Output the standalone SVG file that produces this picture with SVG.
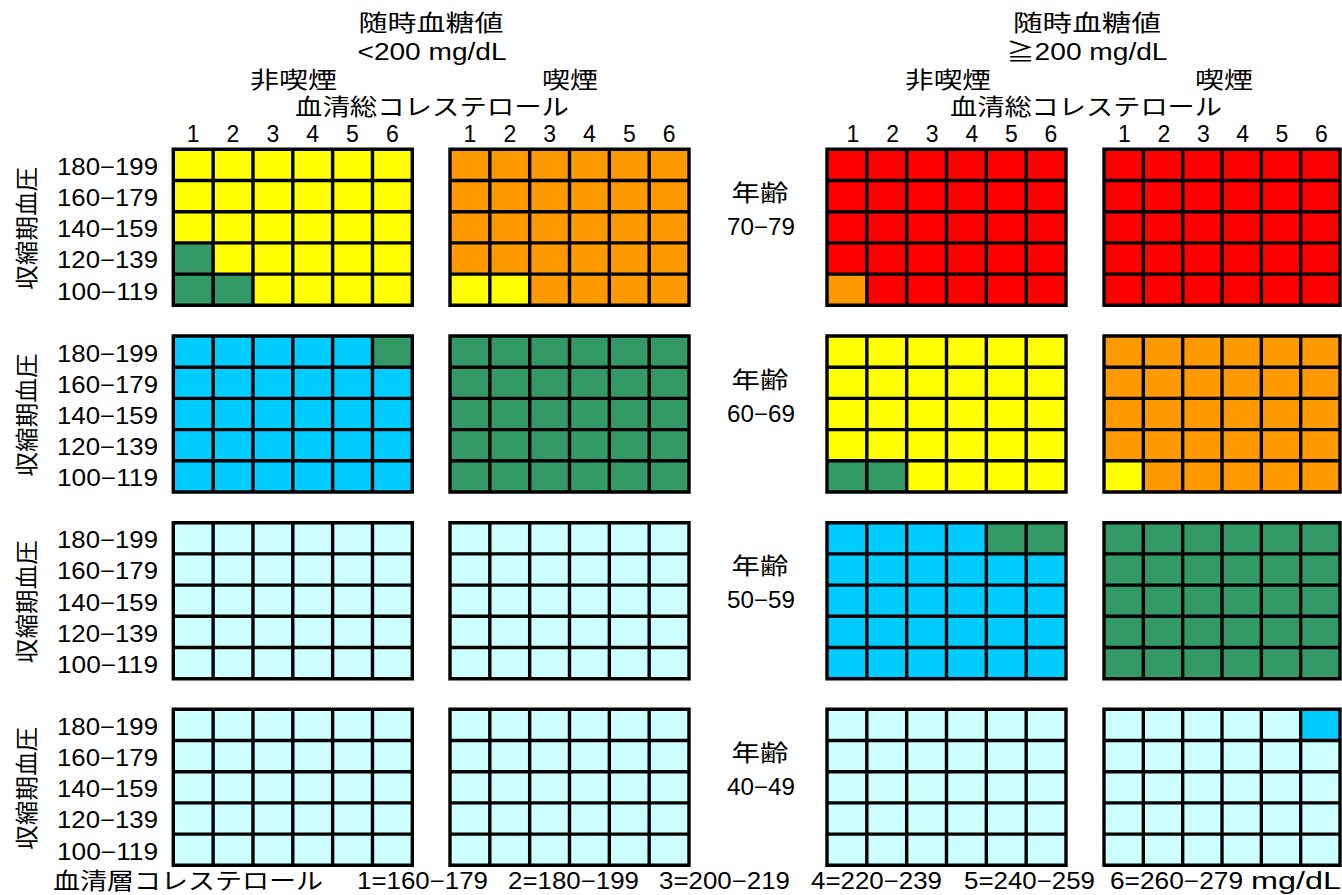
<svg xmlns="http://www.w3.org/2000/svg" xmlns:xlink="http://www.w3.org/1999/xlink" width="1342" height="895" viewBox="0 0 1342 895">
<style>
text{font-family:"Liberation Sans","Noto Sans CJK JP",sans-serif;fill:#000;font-size:23px}
.m{text-anchor:middle}
.grid{fill:none;stroke:#000;stroke-width:3.4}
.Y{fill:#FFFF00}.O{fill:#FF9900}.R{fill:#FF0000}.G{fill:#339966}.B{fill:#00CCFF}.C{fill:#CCFFFF}
</style>
<defs>
<path id="grid" class="grid" d="M0,0H239V156H0Z M39.83,0V156 M79.67,0V156 M119.5,0V156 M159.33,0V156 M199.17,0V156 M0,31.2H239 M0,62.4H239 M0,93.6H239 M0,124.8H239"/>
<g id="rowlab">
<text x="57" y="25.5" textLength="101" lengthAdjust="spacingAndGlyphs">180−199</text>
<text x="57" y="56.7" textLength="101" lengthAdjust="spacingAndGlyphs">160−179</text>
<text x="57" y="87.9" textLength="101" lengthAdjust="spacingAndGlyphs">140−159</text>
<text x="57" y="119.1" textLength="101" lengthAdjust="spacingAndGlyphs">120−139</text>
<text x="57" y="150.3" textLength="101" lengthAdjust="spacingAndGlyphs">100−119</text>
<text class="m" x="0" y="0" font-size="25" textLength="123" lengthAdjust="spacingAndGlyphs" transform="translate(35,79) rotate(-90)">収縮期血圧</text>
</g>
</defs>

<g id="headers">
<text class="m" x="431" y="31" font-size="24" textLength="145" lengthAdjust="spacingAndGlyphs">随時血糖値</text>
<text class="m" x="432" y="60" textLength="149" lengthAdjust="spacingAndGlyphs">&lt;200 mg/dL</text>
<text class="m" x="293.5" y="88" font-size="24" textLength="87" lengthAdjust="spacingAndGlyphs">非喫煙</text>
<text class="m" x="570" y="88" font-size="24" textLength="56" lengthAdjust="spacingAndGlyphs">喫煙</text>
<text class="m" x="432" y="115" font-size="24" textLength="274" lengthAdjust="spacingAndGlyphs">血清総コレステロール</text>
<text class="m" x="1087" y="31" font-size="24" textLength="148" lengthAdjust="spacingAndGlyphs">随時血糖値</text>
<text class="m" x="1087" y="60" textLength="161" lengthAdjust="spacingAndGlyphs">≧200 mg/dL</text>
<text class="m" x="948" y="88" font-size="24" textLength="86" lengthAdjust="spacingAndGlyphs">非喫煙</text>
<text class="m" x="1224" y="88" font-size="24" textLength="58" lengthAdjust="spacingAndGlyphs">喫煙</text>
<text class="m" x="1086" y="115" font-size="24" textLength="272" lengthAdjust="spacingAndGlyphs">血清総コレステロール</text>
<g id="colnums">
<text class="m" x="193.2" y="142">1</text><text class="m" x="233" y="142">2</text><text class="m" x="272.9" y="142">3</text><text class="m" x="312.7" y="142">4</text><text class="m" x="352.5" y="142">5</text><text class="m" x="392.4" y="142">6</text>
<text class="m" x="469.9" y="142">1</text><text class="m" x="509.8" y="142">2</text><text class="m" x="549.6" y="142">3</text><text class="m" x="589.4" y="142">4</text><text class="m" x="629.3" y="142">5</text><text class="m" x="669.1" y="142">6</text>
<text class="m" x="853" y="142">1</text><text class="m" x="892.6" y="142">2</text><text class="m" x="932.2" y="142">3</text><text class="m" x="971.8" y="142">4</text><text class="m" x="1011.4" y="142">5</text><text class="m" x="1051" y="142">6</text>
<text class="m" x="1124.5" y="142">1</text><text class="m" x="1164" y="142">2</text><text class="m" x="1203.3" y="142">3</text><text class="m" x="1242.6" y="142">4</text><text class="m" x="1282" y="142">5</text><text class="m" x="1321.5" y="142">6</text>
</g>
</g>

<g id="axis-labels">
<use xlink:href="#rowlab" href="#rowlab" transform="translate(0,149.3)"/>
<use xlink:href="#rowlab" href="#rowlab" transform="translate(0,336)"/>
<use xlink:href="#rowlab" href="#rowlab" transform="translate(0,522.7)"/>
<use xlink:href="#rowlab" href="#rowlab" transform="translate(0,709.3)"/>
</g>

<g id="age-labels">
<text class="m" x="760" y="201" font-size="24" textLength="57" lengthAdjust="spacingAndGlyphs">年齢</text>
<text class="m" x="761" y="235" textLength="68" lengthAdjust="spacingAndGlyphs">70−79</text>
<text class="m" x="760" y="387.7" font-size="24" textLength="57" lengthAdjust="spacingAndGlyphs">年齢</text>
<text class="m" x="761" y="421.7" textLength="68" lengthAdjust="spacingAndGlyphs">60−69</text>
<text class="m" x="760" y="574.4" font-size="24" textLength="57" lengthAdjust="spacingAndGlyphs">年齢</text>
<text class="m" x="761" y="608.4" textLength="68" lengthAdjust="spacingAndGlyphs">50−59</text>
<text class="m" x="760" y="761" font-size="24" textLength="57" lengthAdjust="spacingAndGlyphs">年齢</text>
<text class="m" x="761" y="795" textLength="68" lengthAdjust="spacingAndGlyphs">40−49</text>
</g>

<!-- Age 70-79 -->
<g id="b70-ns-lo" transform="translate(173.3,149.3)">
<rect class="Y" width="239" height="156"/>
<rect class="G" x="0" y="93.6" width="39.83" height="62.4"/>
<rect class="G" x="39.83" y="124.8" width="39.83" height="31.2"/>
<use xlink:href="#grid" href="#grid"/>
</g>
<g id="b70-s-lo" transform="translate(450,149.3)">
<rect class="O" width="239" height="156"/>
<rect class="Y" x="0" y="124.8" width="79.67" height="31.2"/>
<use xlink:href="#grid" href="#grid"/>
</g>
<g id="b70-ns-hi" transform="translate(827,149.3)">
<rect class="R" width="239" height="156"/>
<rect class="O" x="0" y="124.8" width="39.83" height="31.2"/>
<use xlink:href="#grid" href="#grid"/>
</g>
<g id="b70-s-hi" transform="translate(1104,149.3) scale(0.9875,1)">
<rect class="R" width="239" height="156"/>
<use xlink:href="#grid" href="#grid"/>
</g>

<!-- Age 60-69 -->
<g id="b60-ns-lo" transform="translate(173.3,336)">
<rect class="B" width="239" height="156"/>
<rect class="G" x="199.17" y="0" width="39.83" height="31.2"/>
<use xlink:href="#grid" href="#grid"/>
</g>
<g id="b60-s-lo" transform="translate(450,336)">
<rect class="G" width="239" height="156"/>
<use xlink:href="#grid" href="#grid"/>
</g>
<g id="b60-ns-hi" transform="translate(827,336)">
<rect class="Y" width="239" height="156"/>
<rect class="G" x="0" y="124.8" width="79.67" height="31.2"/>
<use xlink:href="#grid" href="#grid"/>
</g>
<g id="b60-s-hi" transform="translate(1104,336) scale(0.9875,1)">
<rect class="O" width="239" height="156"/>
<rect class="Y" x="0" y="124.8" width="39.83" height="31.2"/>
<use xlink:href="#grid" href="#grid"/>
</g>

<!-- Age 50-59 -->
<g id="b50-ns-lo" transform="translate(173.3,522.7)">
<rect class="C" width="239" height="156"/>
<use xlink:href="#grid" href="#grid"/>
</g>
<g id="b50-s-lo" transform="translate(450,522.7)">
<rect class="C" width="239" height="156"/>
<use xlink:href="#grid" href="#grid"/>
</g>
<g id="b50-ns-hi" transform="translate(827,522.7)">
<rect class="B" width="239" height="156"/>
<rect class="G" x="159.33" y="0" width="79.67" height="31.2"/>
<use xlink:href="#grid" href="#grid"/>
</g>
<g id="b50-s-hi" transform="translate(1104,522.7) scale(0.9875,1)">
<rect class="G" width="239" height="156"/>
<use xlink:href="#grid" href="#grid"/>
</g>

<!-- Age 40-49 -->
<g id="b40-ns-lo" transform="translate(173.3,709.3)">
<rect class="C" width="239" height="156"/>
<use xlink:href="#grid" href="#grid"/>
</g>
<g id="b40-s-lo" transform="translate(450,709.3)">
<rect class="C" width="239" height="156"/>
<use xlink:href="#grid" href="#grid"/>
</g>
<g id="b40-ns-hi" transform="translate(827,709.3)">
<rect class="C" width="239" height="156"/>
<use xlink:href="#grid" href="#grid"/>
</g>
<g id="b40-s-hi" transform="translate(1104,709.3) scale(0.9875,1)">
<rect class="C" width="239" height="156"/>
<rect class="B" x="199.17" y="0" width="39.83" height="31.2"/>
<use xlink:href="#grid" href="#grid"/>
</g>

<g id="legend">
<text x="53" y="889" font-size="24" textLength="270" lengthAdjust="spacingAndGlyphs">血清層コレステロール</text>
<text x="357" y="889" textLength="131" lengthAdjust="spacingAndGlyphs">1=160−179</text>
<text x="508" y="889" textLength="131" lengthAdjust="spacingAndGlyphs">2=180−199</text>
<text x="659" y="889" textLength="131" lengthAdjust="spacingAndGlyphs">3=200−219</text>
<text x="811" y="889" textLength="131" lengthAdjust="spacingAndGlyphs">4=220−239</text>
<text x="964" y="889" textLength="131" lengthAdjust="spacingAndGlyphs">5=240−259</text>
<text x="1110" y="889" textLength="133" lengthAdjust="spacingAndGlyphs">6=260−279</text>
<text x="1251" y="889" textLength="90" lengthAdjust="spacingAndGlyphs">mg/dL</text>
</g>
</svg>
